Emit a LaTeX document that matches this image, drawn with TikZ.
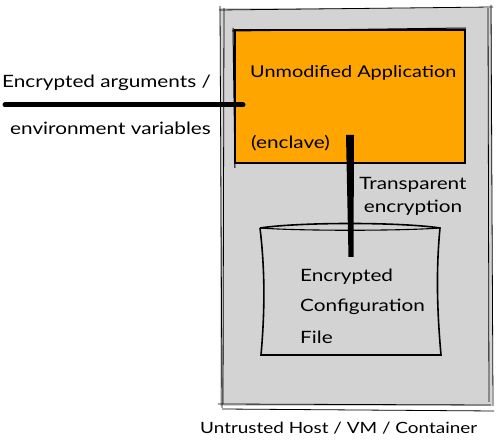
\documentclass[tikz,border=0pt]{standalone}
\usepackage{fontspec}
\setmainfont[FakeStretch=1.22]{Lato}
\usetikzlibrary{calc}
\definecolor{hostgray}{HTML}{D3D3D3}
\definecolor{apporange}{HTML}{FFA500}
\tikzset{
  lbl/.style={font=\fontsize{17}{19}\selectfont, inner sep=0pt},
  lblsmall/.style={font=\fontsize{16.3}{18}\selectfont, inner sep=0pt},
  sketch/.style={draw=black, line width=0.8pt},
  thickline/.style={line width=5pt, line cap=round},
}
\begin{document}
\begin{tikzpicture}[x=1pt,y=-1pt]
\useasboundingbox (0,0) rectangle (496,443);
% host box
\fill[hostgray] (220,8) rectangle (492,406);
\node[inner sep=0pt, minimum width=272, minimum height=398] (host) at (356,207) {};
\draw[sketch] (219,10) -- (493,7);
\draw[sketch] (220,6) -- (222,408);
\draw[sketch] (224,8) -- (223,404);
\draw[sketch] (491,5) -- (493,406);
\draw[sketch] (488,8) -- (489,402);
\draw[sketch] (218,404) -- (491,405);
\draw[sketch] (222,409) -- (494,411);
% application box
\node[draw, fill=apporange, line width=2.8pt, minimum width=230, minimum height=133, inner sep=0pt] (app) at (350,96.5) {};
\draw[line width=1pt] (233,28) -- (235,168);
\draw[line width=1pt] (232,31) -- (466,28);
\node[lblsmall, anchor=west] (apptitle) at (250,73) {Unmodified Application};
\node[lbl, anchor=west] (enclave) at (251,143) {(enclave)};
% encrypted file cylinder
\coordinate (fileNW) at (260,228);
\coordinate (fileNE) at (440,228);
\coordinate (fileSW) at (261,355);
\coordinate (fileSE) at (441,355);
\draw[fill=hostgray, line width=1.6pt]
  (fileNW) .. controls (300,222) and (400,222) .. (fileNE)
  .. controls (436,270) and (437,310) .. (fileSE)
  -- (fileSW)
  .. controls (265,310) and (265,270) .. (fileNW);
\draw[line width=1.1pt] (fileNW) .. controls (300,231) and (400,231) .. (fileNE);
\node[lbl, anchor=west] (file1) at (300,277) {Encrypted};
\node[lbl, anchor=west] (file2) at (300,307) {Configuration};
\node[lbl, anchor=west] (file3) at (300,337) {File};
\coordinate (file) at (351,257);
% transparent encryption connector
\coordinate (appport) at (350,135);
\fill ($(appport)+(-4,0)$) -- ($(appport)+(4,0)$) -- ($(file)+(2.5,0)$) -- ($(file)+(-2.5,0)$) -- cycle;
\node[lbl, align=center] (enc) at (413,196) {Transparent\\[4pt]encryption};
% arguments line
\coordinate (argstart) at (5,105);
\draw[thickline] (argstart) -- (243,105);
\node[lbl, anchor=west] (args1) at (2,83) {Encrypted arguments /};
\node[lbl, anchor=west] (args2) at (10,128) {environment variables};
\node[font=\fontsize{15.5}{18}\selectfont, inner sep=0pt, anchor=west] (hostlbl) at (200,428) {Untrusted Host / VM / Container};
\end{tikzpicture}
\end{document}
